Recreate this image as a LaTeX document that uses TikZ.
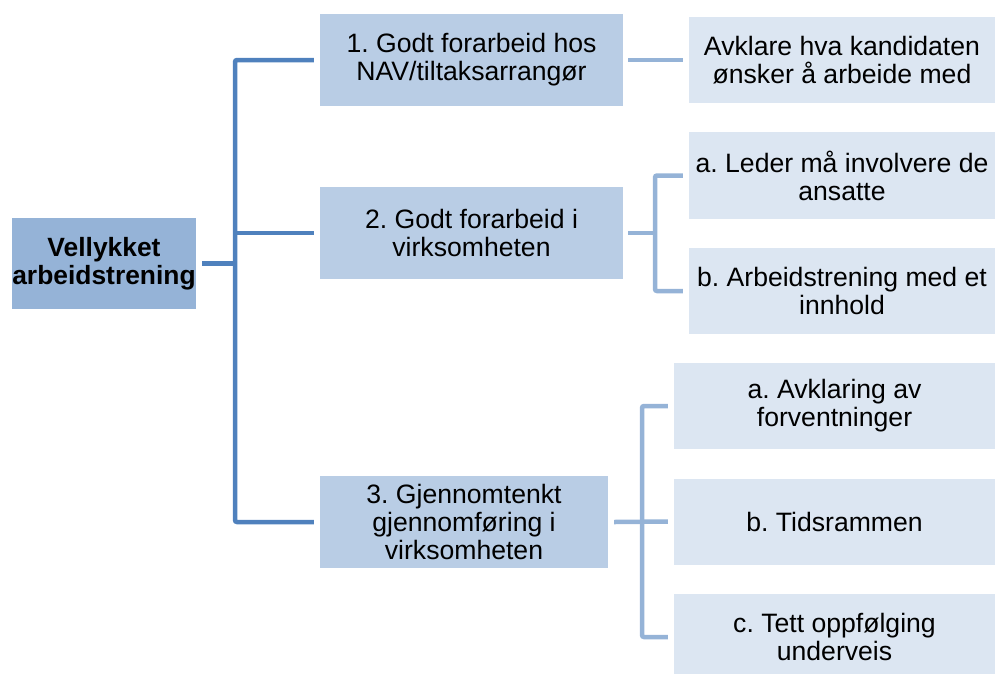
\documentclass[tikz,border=0pt]{standalone}
\usepackage{fontspec}
\setmainfont{Liberation Sans}
\definecolor{rootfill}{HTML}{95B3D7}
\definecolor{lonefill}{HTML}{B9CDE5}
\definecolor{ltwofill}{HTML}{DCE6F2}
\definecolor{darkline}{HTML}{4F81BD}
\definecolor{lightline}{HTML}{95B3D7}
\frenchspacing
\begin{document}
\begin{tikzpicture}[x=1pt,y=-1pt,
  box/.style={draw=none, inner sep=0pt, align=center,
    font=\fontsize{26.6}{28}\selectfont\frenchspacing},
  rootbox/.style={box, fill=rootfill, minimum width=184pt, minimum height=91pt,
    font=\fontsize{26.4}{28}\selectfont\bfseries},
  lonebox/.style={box, fill=lonefill, minimum height=92pt},
  ltwobox/.style={box, fill=ltwofill, minimum height=86pt},
  darkconn/.style={draw=darkline, line width=4.5pt, rounded corners=2pt},
  lightconn/.style={draw=lightline, line width=4.5pt, rounded corners=2pt}]
\useasboundingbox (0,0) rectangle (995,673);

\node[rootbox] (root) at (104,263.5) {Vellykket\\arbeidstrening};

\node[lonebox, minimum width=303pt] (n1) at (471.5,60) {1. Godt forarbeid hos\\NAV/tiltaksarrangør};
\node[lonebox, minimum width=303pt] (n2) at (471.5,233) {2. Godt forarbeid i\\virksomheten};
\node[lonebox, minimum width=288pt] (n3) at (464,522) {3. Gjennomtenkt\\gjennomføring i\\virksomheten};

\node[ltwobox, minimum width=306pt] (m1) at (842,60) {Avklare hva kandidaten\\ønsker å arbeide med};
\node[ltwobox, minimum width=306pt, minimum height=87pt] (m2a) at (842,175.5) {a. Leder må involvere de\\ansatte};
\node[ltwobox, minimum width=306pt] (m2b) at (842,291) {b. Arbeidstrening med et\\innhold};
\node[ltwobox, minimum width=321pt] (m3a) at (834.5,406) {a. Avklaring av\\forventninger};
\node[ltwobox, minimum width=321pt] (m3b) at (834.5,521.5) {b. Tidsrammen};
\node[ltwobox, minimum width=321pt] (m3c) at (834.5,637) {c. Tett oppfølging\\underveis};

% trunk from root
\coordinate (t) at (235,263.5);
\draw[darkconn] ([xshift=6pt]root.east) -- (t);
\draw[darkconn] ([xshift=-6pt]n1.west) -| (t) |- ([xshift=-6pt]n3.west);
\draw[darkconn] ([xshift=-6pt]n2.west) -- (n2.west -| t);

% level 1 -> 2
\draw[lightconn] ([xshift=5pt]n1.east) -- ([xshift=-6pt]m1.west);

\coordinate (b2) at (655,233);
\draw[lightconn] ([xshift=5pt]n2.east) -- (b2);
\draw[lightconn] ([xshift=-6pt]m2a.west) -| (b2) |- ([xshift=-6pt]m2b.west);

\coordinate (b3) at (642,522);
\draw[lightconn] ([xshift=6pt]n3.east) -- ([xshift=-6pt]m3b.west);
\draw[lightconn] ([xshift=-6pt]m3a.west) -| (b3) |- ([xshift=-6pt]m3c.west);
\end{tikzpicture}
\end{document}
